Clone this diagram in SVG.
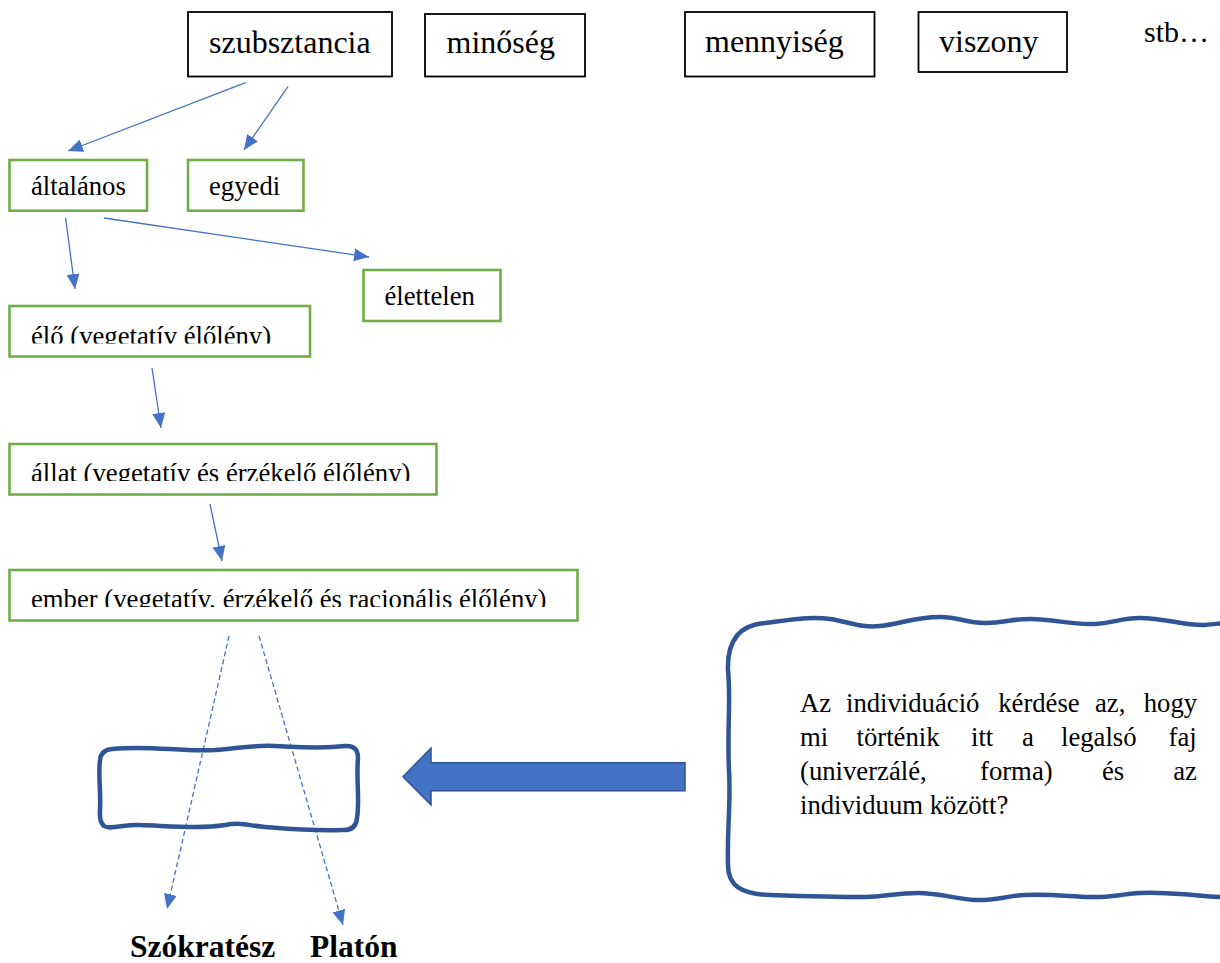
<svg xmlns="http://www.w3.org/2000/svg" width="1220" height="963" viewBox="0 0 1220 963">
<style>
.bk{fill:#fff;stroke:#000;stroke-width:1.8}
.gr{fill:#fff;stroke:#70AD47;stroke-width:2.6}
.t{font-family:"Liberation Serif","Times New Roman",serif;fill:#000}
.big{font-size:32px}
.mid{font-size:26.7px}
.bold{font-family:"Liberation Serif","Times New Roman",serif;font-weight:bold;font-size:31.5px;fill:#000}
.conn{stroke:#4472C4;stroke-width:1.3;fill:none;marker-end:url(#ah)}
.dash{stroke:#4472C4;stroke-width:1.3;fill:none;stroke-dasharray:5 3;marker-end:url(#ah)}
.wave{fill:none;stroke:#2F5597;stroke-width:4.5;stroke-linejoin:round}
</style>
<defs>
<marker id="ah" viewBox="0 0 15 13" refX="15" refY="6.5" markerWidth="15" markerHeight="13" markerUnits="userSpaceOnUse" orient="auto">
<path d="M0,0 L15,6.5 L0,13 Z" fill="#4472C4"/>
</marker>
<clipPath id="c1"><rect x="0" y="306" width="320" height="37.5"/></clipPath>
<clipPath id="c2"><rect x="0" y="444" width="450" height="37"/></clipPath>
<clipPath id="c3"><rect x="0" y="570" width="590" height="37"/></clipPath>
</defs>
<rect width="1220" height="963" fill="#fff"/>

<g id="szubsztancia"><rect class="bk" x="188" y="12" width="204" height="64.5"/><text class="t big" x="209" y="53">szubsztancia</text></g>
<g id="minoseg"><rect class="bk" x="425" y="14" width="160" height="62.5"/><text class="t big" x="446.5" y="53">minőség</text></g>
<g id="mennyiseg"><rect class="bk" x="685" y="12" width="189.5" height="64.5"/><text class="t big" x="705" y="52">mennyiség</text></g>
<g id="viszony"><rect class="bk" x="918.5" y="12" width="148.5" height="60"/><text class="t big" x="939" y="52">viszony</text></g>
<g id="stb"><text class="t" style="font-size:30px" x="1144" y="42">stb…</text></g>

<g id="altalanos"><rect class="gr" x="9.5" y="160" width="137.5" height="50.7"/><text class="t mid" x="31" y="195">általános</text></g>
<g id="egyedi"><rect class="gr" x="188" y="160" width="115.5" height="50.7"/><text class="t mid" x="209" y="195">egyedi</text></g>
<g id="elettelen"><rect class="gr" x="363.5" y="270" width="137" height="51"/><text class="t mid" x="384.5" y="305">élettelen</text></g>
<g id="elo"><rect class="gr" x="9.5" y="306" width="300.5" height="50.5"/><text class="t mid" x="31" y="344.5" clip-path="url(#c1)">élő (vegetatív élőlény)</text></g>
<g id="allat"><rect class="gr" x="9.5" y="444" width="427" height="50.5"/><text class="t mid" x="31" y="482" clip-path="url(#c2)">állat (vegetatív és érzékelő élőlény)</text></g>
<g id="ember"><rect class="gr" x="9.5" y="570" width="568" height="50.5"/><text class="t mid" x="31" y="608" clip-path="url(#c3)">ember (vegetatív, érzékelő és racionális élőlény)</text></g>

<g id="connectors">
<line class="conn" x1="245.6" y1="82.7" x2="68" y2="151"/>
<line class="conn" x1="288" y1="86.7" x2="244" y2="150"/>
<line class="conn" x1="65.6" y1="218" x2="75" y2="289"/>
<line class="conn" x1="104" y1="218" x2="369" y2="257"/>
<line class="conn" x1="152" y1="368" x2="161" y2="428"/>
<line class="conn" x1="210" y1="504" x2="222" y2="561"/>
<line class="dash" x1="229" y1="636" x2="167" y2="909"/>
<line class="dash" x1="259" y1="636" x2="343" y2="925"/>
</g>

<g id="gap-box">
<path class="wave" d="M112,749 C150,745 180,752 215,750 C240,748 250,745 275,746 C300,747 320,749 345,746 Q358,745 358,758 C356,780 360,800 357,818 Q356,831 342,830 C310,831 290,829 265,827 C245,825 240,822 225,825 C200,829 170,826 140,825 C125,824 110,830 104,826 Q99,822 100,810 C101,790 98,775 100,760 Q101,750 112,749 Z"/>
</g>

<g id="block-arrow">
<polygon points="403,776.7 431,748 431,762.7 685,762.7 685,790.7 431,790.7 431,805" fill="#4472C4" stroke="#2F528F" stroke-width="1.5"/>
</g>

<g id="question">
<path class="wave" d="M728,670 C727,640 740,625 765,623 C790,620 810,616 830,619 C850,622 860,628 880,626 C900,624 915,617 940,617 C960,617 965,623 985,623 C1005,623 1010,619 1030,619 C1055,619 1070,625 1095,624 C1115,623 1120,618 1140,618 C1165,618 1185,626 1205,625 C1215,624 1220,623 1235,623 L1235,897 C1210,898 1200,895 1180,894 C1160,893 1155,892 1140,893 C1120,894 1110,898 1090,897 C1065,896 1050,894 1025,895 C1005,896 995,901 975,900 C955,899 940,893 918,893 C895,893 885,897 865,897 C835,897 800,896 770,895 C740,894 728,885 728,865 C727,830 731,800 729,770 C727,730 731,700 728,670 Z"/>
<text class="t mid"><tspan x="800" y="712">Az</tspan><tspan x="846" y="712">individuáció</tspan><tspan x="998.2" y="712">kérdése</tspan><tspan x="1095" y="712">az,</tspan><tspan x="1143.7" y="712">hogy</tspan></text>
<text class="t mid"><tspan x="800" y="746">mi</tspan><tspan x="856.5" y="746">történik</tspan><tspan x="971" y="746">itt</tspan><tspan x="1022.1" y="746">a</tspan><tspan x="1061" y="746">legalsó</tspan><tspan x="1168.6" y="746">faj</tspan></text>
<text class="t mid"><tspan x="800" y="780">(univerzálé,</tspan><tspan x="980" y="780">forma)</tspan><tspan x="1102" y="780">és</tspan><tspan x="1173.2" y="780">az</tspan></text>
<text class="t mid" x="800" y="813.5">individuum között?</text>
</g>

<g id="szokratesz"><text class="bold" x="130" y="957">Szókratész</text></g>
<g id="platon"><text class="bold" x="310" y="957">Platón</text></g>
</svg>
